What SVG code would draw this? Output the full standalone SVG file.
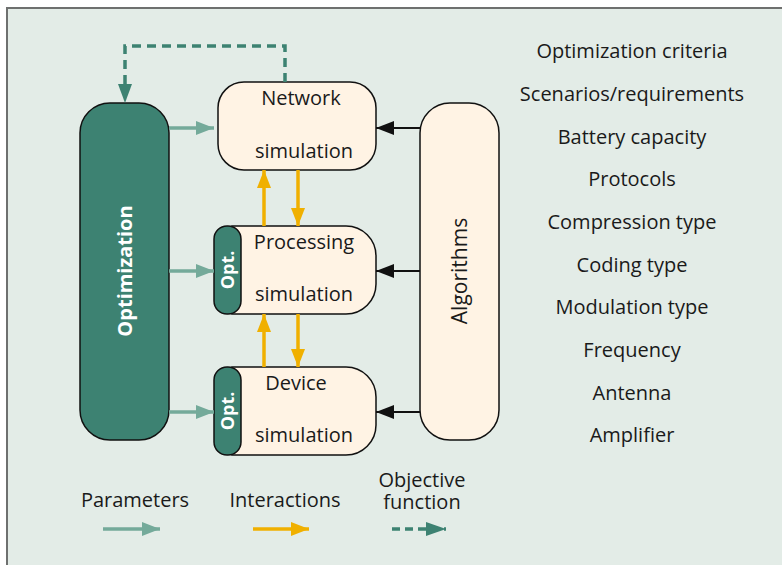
<svg xmlns="http://www.w3.org/2000/svg" width="782" height="565" viewBox="0 0 782 565">
<defs>
<style>
text{font-family:"Open Sans","Noto Sans","DejaVu Sans",sans-serif;font-size:20px;fill:#1a1a1a;text-anchor:middle}
.box{fill:#fff3e4;stroke:#111;stroke-width:1.5}
.dark{fill:#3d8272;stroke:#111;stroke-width:1.5}
.w{fill:#fff;font-weight:bold}
.par{stroke:#74aa9a;stroke-width:3.5;fill:none}
.int{stroke:#f0b000;stroke-width:3.5;fill:none}
.obj{stroke:#3d8272;stroke-width:3.5;fill:none;stroke-dasharray:9 6}
.alg{stroke:#111;stroke-width:2;fill:none}
</style>
<marker id="mPar" viewBox="0 0 18 14" refX="18" refY="7" markerWidth="18" markerHeight="14" markerUnits="userSpaceOnUse" orient="auto"><path d="M0,0L18,7L0,14z" fill="#74aa9a"/></marker>
<marker id="mInt" viewBox="0 0 18 14" refX="18" refY="7" markerWidth="18" markerHeight="14" markerUnits="userSpaceOnUse" orient="auto"><path d="M0,0L18,7L0,14z" fill="#f0b000"/></marker>
<marker id="mObj" viewBox="0 0 20 14" refX="20" refY="7" markerWidth="20" markerHeight="14" markerUnits="userSpaceOnUse" orient="auto"><path d="M0,0L20,7L0,14z" fill="#3d8272"/></marker>
<marker id="mAlg" viewBox="0 0 18 14" refX="18" refY="7" markerWidth="18" markerHeight="14" markerUnits="userSpaceOnUse" orient="auto"><path d="M0,0L18,7L0,14z" fill="#111"/></marker>
</defs>
<rect x="7" y="8" width="790" height="570" fill="#e3ece7" stroke="#6e706f" stroke-width="2"/>

<g id="optimization">
<rect class="dark" x="80" y="103" width="89" height="337" rx="30" ry="30"/>
<text class="w" transform="translate(132,271) rotate(-90)">Optimization</text>
</g>

<g id="algorithms">
<rect class="box" x="420" y="103" width="79" height="337" rx="30" ry="30"/>
<text transform="translate(467,271) rotate(-90)" style="font-size:21px">Algorithms</text>
</g>

<g id="network">
<rect class="box" x="218" y="82" width="158" height="88" rx="26" ry="26"/>
<text x="301" y="105">Network</text>
<text x="304" y="158">simulation</text>
</g>

<g id="processing">
<path class="box" d="M232,226 H346 A30,30 0 0 1 376,256 V284 A30,30 0 0 1 346,314 H232 Z"/>
<rect class="dark" x="214" y="226" width="27" height="88" rx="13" ry="13"/>
<text class="w" transform="translate(234,270) rotate(-90)" style="font-size:18px">Opt.</text>
<text x="304" y="249">Processing</text>
<text x="304" y="301">simulation</text>
</g>

<g id="device">
<path class="box" d="M232,367 H346 A30,30 0 0 1 376,397 V425 A30,30 0 0 1 346,455 H232 Z"/>
<rect class="dark" x="214" y="367" width="27" height="88" rx="13" ry="13"/>
<text class="w" transform="translate(234,411) rotate(-90)" style="font-size:18px">Opt.</text>
<text x="296" y="390">Device</text>
<text x="304" y="442">simulation</text>
</g>

<g id="connectors">
<path class="obj" d="M285,82 V46 H125 V84" />
<path d="M118,84 L125,103 L132,84 Z" fill="#3d8272"/>
<line class="par" x1="169" y1="128" x2="214" y2="128" marker-end="url(#mPar)"/>
<line class="par" x1="169" y1="271" x2="214" y2="271" marker-end="url(#mPar)"/>
<line class="par" x1="169" y1="412" x2="214" y2="412" marker-end="url(#mPar)"/>
<line class="int" x1="264" y1="226" x2="264" y2="170" marker-end="url(#mInt)"/>
<line class="int" x1="298" y1="170" x2="298" y2="226" marker-end="url(#mInt)"/>
<line class="int" x1="264" y1="367" x2="264" y2="314" marker-end="url(#mInt)"/>
<line class="int" x1="298" y1="314" x2="298" y2="367" marker-end="url(#mInt)"/>
<line class="alg" x1="420" y1="128" x2="376" y2="128" marker-end="url(#mAlg)"/>
<line class="alg" x1="420" y1="271" x2="376" y2="271" marker-end="url(#mAlg)"/>
<line class="alg" x1="420" y1="412" x2="376" y2="412" marker-end="url(#mAlg)"/>
</g>

<g id="legend">
<text x="135" y="507">Parameters</text>
<line class="par" x1="103" y1="529" x2="160" y2="529" marker-end="url(#mPar)"/>
<text x="285" y="507">Interactions</text>
<line class="int" x1="253" y1="529" x2="309" y2="529" marker-end="url(#mInt)"/>
<text x="422" y="487">Objective</text>
<text x="422" y="509">function</text>
<line class="obj" x1="392" y1="529" x2="446" y2="529" marker-end="url(#mObj)" style="stroke-dasharray:8 5"/>
</g>

<g id="list">
<text x="632" y="58">Optimization criteria</text>
<text x="632" y="101">Scenarios/requirements</text>
<text x="632" y="144">Battery capacity</text>
<text x="632" y="186">Protocols</text>
<text x="632" y="229">Compression type</text>
<text x="632" y="272">Coding type</text>
<text x="632" y="314">Modulation type</text>
<text x="632" y="357">Frequency</text>
<text x="632" y="400">Antenna</text>
<text x="632" y="442">Amplifier</text>
</g>
</svg>
